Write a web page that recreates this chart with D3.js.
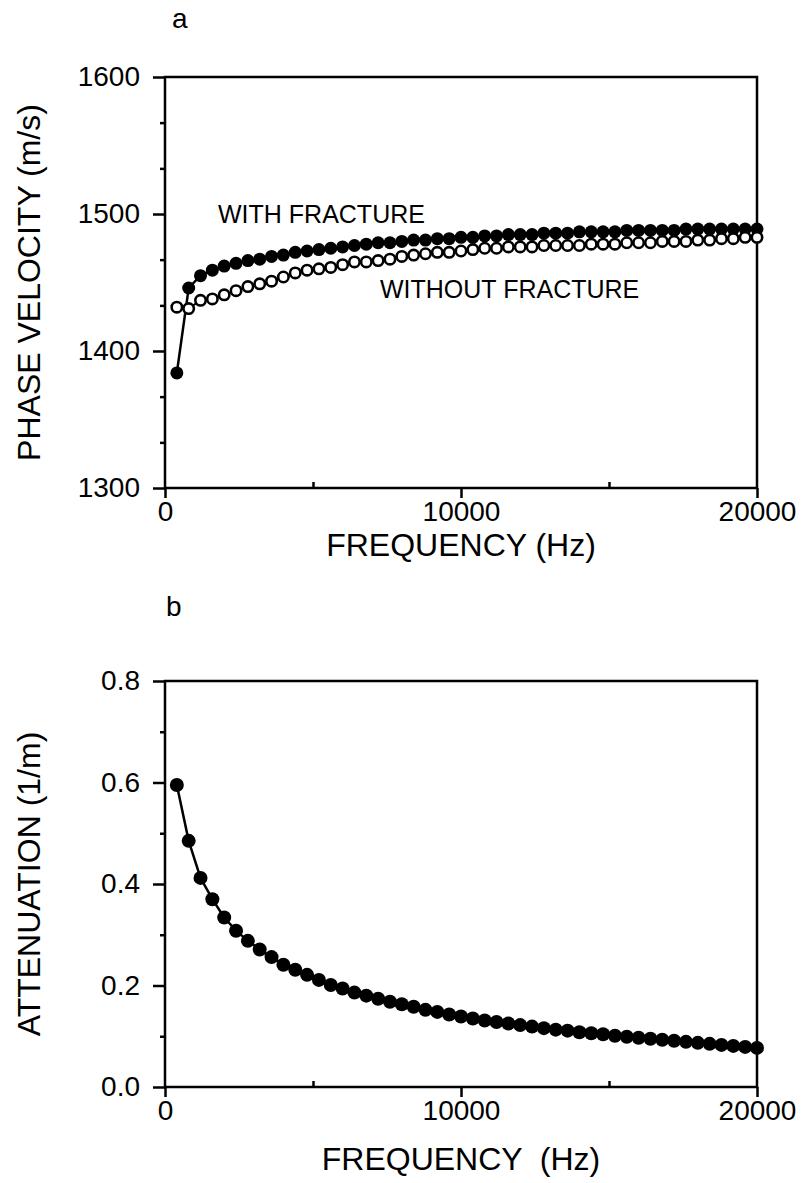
<!DOCTYPE html>
<html>
<head>
<meta charset="utf-8">
<script src="https://cdn.jsdelivr.net/npm/d3@7"></script>
<style>
body { margin: 0; background: #fff; }
text { font-family: "Liberation Sans", Arial, sans-serif; fill: #000; }
</style>
</head>
<body>
<div id="canvas"></div>
<script>
// ----------------------------------------------------------
// DATA -----------------------------------------------------
// ----------------------------------------------------------
var frequency = [
400, 800, 1200, 1600, 2000, 2400, 2800, 3200, 3600, 4000,
4400, 4800, 5200, 5600, 6000, 6400, 6800, 7200, 7600, 8000,
8400, 8800, 9200, 9600, 10000, 10400, 10800, 11200, 11600, 12000,
12400, 12800, 13200, 13600, 14000, 14400, 14800, 15200, 15600, 16000,
16400, 16800, 17200, 17600, 18000, 18400, 18800, 19200, 19600, 20000
];

var velocity_with_fracture = [
1384, 1446, 1455, 1459, 1462, 1464, 1466, 1467, 1469, 1470,
1472, 1473, 1474, 1475, 1476, 1477, 1478, 1479, 1479, 1480,
1481, 1481, 1482, 1482, 1483, 1483, 1484, 1484, 1485, 1485,
1485, 1486, 1486, 1486, 1487, 1487, 1487, 1487, 1488, 1488,
1488, 1488, 1488, 1489, 1489, 1489, 1489, 1489, 1489, 1489
];

var velocity_without_fracture = [
1432, 1431, 1437, 1438, 1441, 1444, 1447, 1449, 1451, 1454,
1457, 1459, 1460, 1461, 1463, 1465, 1465, 1466, 1467, 1469,
1470, 1471, 1472, 1472, 1473, 1474, 1475, 1475, 1476, 1476,
1476, 1477, 1477, 1477, 1477, 1478, 1478, 1478, 1479, 1479,
1479, 1480, 1480, 1480, 1481, 1481, 1482, 1482, 1483, 1483
];

var attenuation = [
0.595, 0.485, 0.412, 0.370, 0.334, 0.308, 0.288, 0.271, 0.256, 0.241,
0.231, 0.221, 0.211, 0.201, 0.194, 0.186, 0.180, 0.174, 0.168, 0.163,
0.158, 0.152, 0.148, 0.143, 0.139, 0.135, 0.131, 0.128, 0.125, 0.122,
0.119, 0.116, 0.113, 0.111, 0.108, 0.106, 0.104, 0.101, 0.099, 0.097,
0.095, 0.093, 0.091, 0.089, 0.087, 0.085, 0.083, 0.081, 0.079, 0.077
];

var x_ticks = [0, 10000, 20000];
var x_minor_ticks = [5000, 15000];
var velocity_ticks = [1300, 1400, 1500, 1600];
var velocity_minor_ticks = [1333.3, 1366.7, 1433.3, 1466.7, 1533.3, 1566.7];
var attenuation_ticks = [0.0, 0.2, 0.4, 0.6, 0.8];
var attenuation_minor_ticks = [0.1, 0.3, 0.5, 0.7];


// ----------------------------------------------------------
// STRUCTURE ------------------------------------------------
// ----------------------------------------------------------
var plot_left = 165;
var plot_right = 757;

var container = d3.select("#canvas").append("svg")
.attr("width", 809)
.attr("height", 1183)
.style("background-color", "#fff");

// shared x scale
var xScale = d3.scaleLinear()
.domain([0, 20000])
.range([plot_left, plot_right]);


// draw one framed panel with axes, returns the y scale
function drawPanel(top, bottom, yDomain, yTicks, yMinor, yFormat, yTitle, xTitle, xTitleY, letter, letterX, letterY) {
var yScale = d3.scaleLinear()
.domain(yDomain)
.range([bottom, top]);

var panel = container.append("g").attr("class", "panel");

// bottom axis, major ticks outward
panel.append("g")
.attr("class", "x_axis")
.attr("transform", `translate(0, ${bottom})`)
.call(d3.axisBottom(xScale)
.tickValues(x_ticks)
.tickSize(10)
.tickPadding(3)
.tickFormat(d3.format("d")));
// bottom axis, minor ticks inward
panel.append("g")
.attr("class", "x_axis_minor")
.attr("transform", `translate(0, ${bottom})`)
.call(d3.axisBottom(xScale)
.tickValues(x_minor_ticks)
.tickSize(-6)
.tickFormat(""));

// left axis
panel.append("g")
.attr("class", "y_axis")
.attr("transform", `translate(${plot_left}, 0)`)
.call(d3.axisLeft(yScale)
.tickValues(yTicks)
.tickSize(12)
.tickPadding(13)
.tickFormat(yFormat));
panel.append("g")
.attr("class", "y_axis_minor")
.attr("transform", `translate(${plot_left}, 0)`)
.call(d3.axisLeft(yScale)
.tickValues(yMinor)
.tickSize(5)
.tickFormat(""));

panel.selectAll(".domain").remove();
panel.selectAll(".tick line")
.attr("stroke", "#000")
.attr("stroke-width", 2.5);
panel.selectAll(".tick text")
.style("font-size", "28px")
.style("font-family", "'Liberation Sans', Arial, sans-serif");

// frame
panel.append("rect")
.attr("x", plot_left)
.attr("y", top)
.attr("width", plot_right - plot_left)
.attr("height", bottom - top)
.attr("fill", "none")
.attr("stroke", "#000")
.attr("stroke-width", 2.5);

// titles
panel.append("text")
.attr("transform", `translate(40, ${(top + bottom) / 2}) rotate(-90)`)
.attr("text-anchor", "middle")
.style("font-size", "32px")
.text(yTitle);

panel.append("text")
.attr("x", (plot_left + plot_right) / 2)
.attr("y", xTitleY)
.attr("text-anchor", "middle")
.style("font-size", "32px")
.style("white-space", "pre")
.text(xTitle);

panel.append("text")
.attr("x", letterX)
.attr("y", letterY)
.style("font-size", "28px")
.text(letter);

return { g: panel, y: yScale };
}


// ----------------------------------------------------------
// GFX ------------------------------------------------------
// ----------------------------------------------------------

// DIAGRAM A - phase velocity --------------------------------
var panel_a = drawPanel(77, 488, [1300, 1600], velocity_ticks, velocity_minor_ticks,
d3.format("d"), "PHASE VELOCITY (m/s)", "FREQUENCY (Hz)", 556, "a", 172, 28);

var line_a = d3.line()
.x((d, i) => xScale(frequency[i]))
.y((d) => panel_a.y(d));

// with fracture: filled dots
panel_a.g.append("path")
.datum(velocity_with_fracture)
.attr("d", line_a)
.attr("fill", "none")
.attr("stroke", "#000")
.attr("stroke-width", 2.5);
panel_a.g.selectAll(".dot_with")
.data(velocity_with_fracture)
.enter()
.append("circle")
.attr("class", "dot_with")
.attr("cx", (d, i) => xScale(frequency[i]))
.attr("cy", (d) => panel_a.y(d))
.attr("r", 6.5)
.attr("fill", "#000");

// without fracture: open dots
panel_a.g.append("path")
.datum(velocity_without_fracture)
.attr("d", line_a)
.attr("fill", "none")
.attr("stroke", "#000")
.attr("stroke-width", 2);
panel_a.g.selectAll(".dot_without")
.data(velocity_without_fracture)
.enter()
.append("circle")
.attr("class", "dot_without")
.attr("cx", (d, i) => xScale(frequency[i]))
.attr("cy", (d) => panel_a.y(d))
.attr("r", 5.2)
.attr("fill", "#fff")
.attr("stroke", "#000")
.attr("stroke-width", 2.6);

// labels
panel_a.g.append("text")
.attr("x", 218)
.attr("y", 223)
.style("font-size", "25px")
.text("WITH FRACTURE");
panel_a.g.append("text")
.attr("x", 380)
.attr("y", 298)
.style("font-size", "25px")
.text("WITHOUT FRACTURE");


// DIAGRAM B - attenuation -----------------------------------
var panel_b = drawPanel(681, 1087, [0, 0.8], attenuation_ticks, attenuation_minor_ticks,
d3.format(".1f"), "ATTENUATION (1/m)", "FREQUENCY  (Hz)", 1170, "b", 166, 616);

var line_b = d3.line()
.x((d, i) => xScale(frequency[i]))
.y((d) => panel_b.y(d));

panel_b.g.append("path")
.datum(attenuation)
.attr("d", line_b)
.attr("fill", "none")
.attr("stroke", "#000")
.attr("stroke-width", 2.5);
panel_b.g.selectAll(".dot_att")
.data(attenuation)
.enter()
.append("circle")
.attr("class", "dot_att")
.attr("cx", (d, i) => xScale(frequency[i]))
.attr("cy", (d) => panel_b.y(d))
.attr("r", 7)
.attr("fill", "#000");
</script>
</body>
</html>
